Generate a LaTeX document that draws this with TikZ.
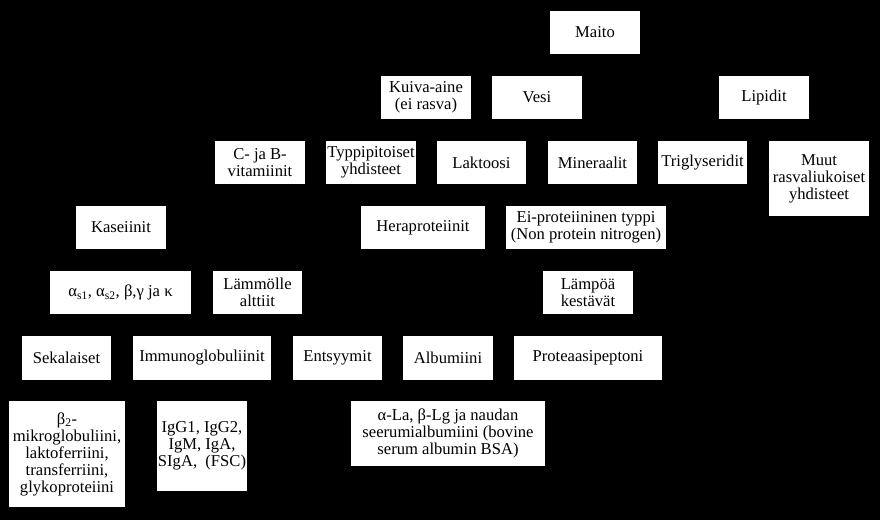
\documentclass[tikz,border=0pt]{standalone}
\usepackage{fontspec}
\setmainfont{Liberation Serif}
\begin{document}
\begin{tikzpicture}[x=1pt,y=-1pt,
  box/.style={fill=white, draw=none, inner sep=0pt, align=center, text=black,
    font=\fontsize{16.6}{17}\selectfont},
  sz/.style 2 args={minimum width=#1pt, minimum height=#2pt}]
\fill[black] (0,0) rectangle (880,520);
\useasboundingbox (0,0) rectangle (880,520);
% row 1
\node[box, sz={90}{43}] (maito) at (595,32.5) {Maito};
% row 2
\node[box, sz={90}{43}] (kuiva) at (426,97.5) {Kuiva-aine\\(ei rasva)};
\node[box, sz={90}{43}] (vesi) at (537,97.5) {Vesi};
\node[box, sz={90}{43}] (lipidit) at (764,97.5) {Lipidit};
% row 3
\node[box, sz={90}{43}] (cb) at (260,162.5) {C- ja B-\\vitamiinit};
\node[box, sz={90}{43}] (typpi) at (371,162.5) {Typpipitoiset\\yhdisteet};
\node[box, sz={89}{43}] (laktoosi) at (481.5,162.5) {Laktoosi};
\node[box, sz={89}{43}] (mineraalit) at (592.5,162.5) {Mineraalit};
\node[box, sz={89}{43}] (trigly) at (702.5,162.5) {Triglyseridit};
\node[box, sz={100}{75}] (muut) at (819,178.5) {Muut\\rasvaliukoiset\\yhdisteet};
% row 4
\node[box, sz={90}{43}] (kaseiinit) at (121,227.5) {Kaseiinit};
\node[box, sz={124}{43}] (hera) at (423,227.5) {Heraproteiinit};
\node[box, sz={160}{43}] (eiprot) at (586,227.5) {Ei-proteiininen typpi\\(Non protein nitrogen)};
% row 5
\node[box, sz={141}{43}] (alpha) at (120.5,292.5) {α\textsubscript{s1}, α\textsubscript{s2}, β,γ ja κ};
\node[box, sz={89}{43}] (lammolle) at (257.5,292.5) {Lämmölle\\alttiit};
\node[box, sz={90}{43}] (lampoa) at (588,292.5) {Lämpöä\\kestävät};
% row 6
\node[box, sz={89}{44}] (sekalaiset) at (66.5,358) {Sekalaiset};
\node[box, sz={138}{44}] (immuno) at (202,358) {Immunoglobuliinit};
\node[box, sz={89}{44}] (entsyymit) at (337.5,358) {Entsyymit};
\node[box, sz={90}{44}] (albumiini) at (448,358) {Albumiini};
\node[box, sz={148}{44}] (proteaasi) at (588,358) {Proteaasipeptoni};
% row 7
\node[box, sz={116}{106}] (beta) at (67,454) {β\textsubscript{2}-\\mikroglobuliini,\\laktoferriini,\\transferriini,\\glykoproteiini};
\node[box, sz={90}{90}] (igg) at (202,446) {IgG1, IgG2,\\IgM, IgA,\\SIgA,~ (FSC)};
\node[box, sz={194}{65}] (ala) at (448,433.5) {α-La, β-Lg ja naudan\\seerumialbumiini (bovine\\serum albumin BSA)};
\end{tikzpicture}
\end{document}
